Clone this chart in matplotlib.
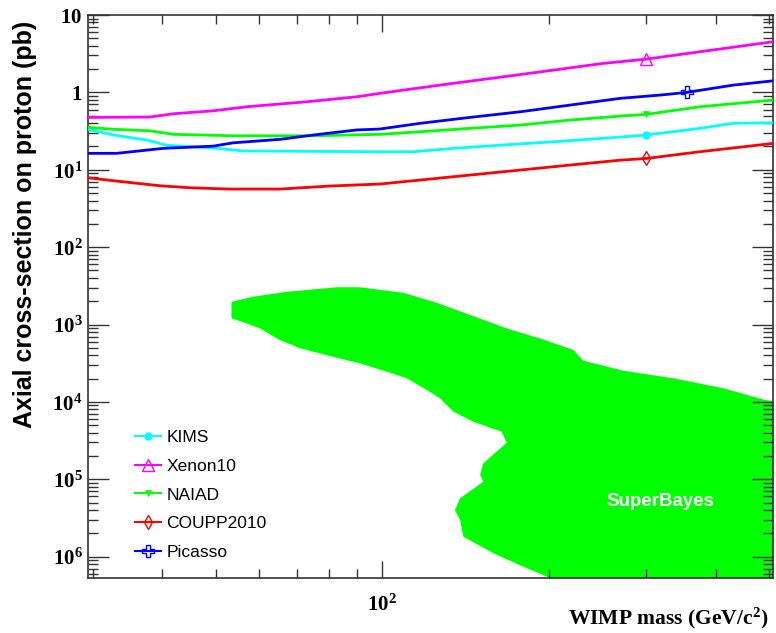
import matplotlib
matplotlib.use("Agg")
import matplotlib.pyplot as plt
from matplotlib.lines import Line2D
from matplotlib.ticker import FixedLocator, FixedFormatter, NullFormatter, LogLocator

plt.rcParams['mathtext.fontset'] = 'custom'
plt.rcParams['mathtext.rm'] = 'Liberation Serif:bold'
plt.rcParams['mathtext.it'] = 'Liberation Serif:bold'
plt.rcParams['mathtext.bf'] = 'Liberation Serif:bold'
plt.rcParams['mathtext.default'] = 'rm'

# axis ranges (GeV, pb)
XMIN, XMAX = 29.4, 508.0
YMIN, YMAX = 5.3e-7, 10.0

# exclusion limits: WIMP mass (GeV/c^2) -> axial cross-section (pb)
kims_mass = [29.4, 32.7, 37.5, 40.8, 50.0, 56.0, 99.0, 113.7, 134.4, 165.4, 203.7, 250.7, 300.0, 374.8, 430.0, 508.0]
kims_sigma = [0.333, 0.281, 0.242, 0.207, 0.19, 0.175, 0.171, 0.171, 0.189, 0.209, 0.23, 0.255, 0.281, 0.343, 0.398, 0.405]

xenon_mass = [29.4, 38.0, 42.0, 49.5, 56.9, 73.0, 89.9, 99.0, 109.1, 134.4, 165.4, 203.7, 250.7, 300.0, 374.8, 508.0]
xenon_sigma = [0.475, 0.48, 0.53, 0.578, 0.652, 0.756, 0.877, 0.971, 1.07, 1.31, 1.59, 1.94, 2.37, 2.69, 3.35, 4.51]

naiad_mass = [29.4, 32.7, 38.0, 41.9, 53.8, 75.0, 99.0, 117.0, 144.0, 177.4, 218.3, 268.9, 300.0, 374.8, 508.0]
naiad_sigma = [0.353, 0.333, 0.319, 0.287, 0.275, 0.275, 0.287, 0.31, 0.343, 0.378, 0.439, 0.494, 0.52, 0.652, 0.795]

coupp_mass = [29.4, 32.7, 39.7, 45.0, 53.1, 65.3, 80.4, 99.0, 117.0, 144.0, 177.4, 218.3, 268.9, 300.0, 374.8, 508.0]
coupp_sigma = [0.0788, 0.0721, 0.0621, 0.0585, 0.0563, 0.0563, 0.0616, 0.0654, 0.0736, 0.0854, 0.0991, 0.115, 0.133, 0.14, 0.171, 0.219]

picasso_mass = [29.4, 33.1, 40.2, 49.5, 53.8, 65.3, 75.0, 89.9, 99.0, 117.0, 144.0, 177.4, 218.3, 268.9, 317.6, 355.0, 430.0, 508.0]
picasso_sigma = [0.163, 0.163, 0.189, 0.202, 0.223, 0.247, 0.281, 0.327, 0.336, 0.398, 0.475, 0.561, 0.685, 0.837, 0.923, 1.0, 1.24, 1.41]

# one marker per curve
marker_mass = [300.0, 300.0, 300.0, 300.0, 355.0]
marker_sigma = [0.281, 2.69, 0.52, 0.14, 1.0]

names = ["KIMS", "Xenon10", "NAIAD", "COUPP2010", "Picasso"]
colors = ["#00ffff", "#ff00ff", "#00ff00", "#ff0000", "#0000ff"]

# SuperBayes favoured region boundary
sb_upper_mass = [53.4, 58.5, 67.2, 82.7, 91.1, 109.1, 125.4, 144.0, 167.8, 192.7, 221.4, 230.7, 272.5, 335.6, 413.2, 491.4, 508.0]
sb_upper_sigma = [1.97e-3, 2.29e-3, 2.65e-3, 3.03e-3, 3.03e-3, 2.57e-3, 1.91e-3, 1.33e-3, 8.9e-4, 6.6e-4, 4.69e-4, 3.41e-4, 2.53e-4, 2.02e-4, 1.5e-4, 1.06e-4, 1.03e-4]
sb_lower_mass = [53.4, 55.7, 60.1, 64.9, 71.0, 80.4, 91.1, 101.8, 110.7, 120.3, 127.2, 134.4, 146.0, 164.3, 167.8, 152.2, 150.2, 152.2, 138.2, 135.3, 138.2, 140.1, 158.7, 179.8, 200.9]
sb_lower_sigma = [1.20e-3, 1.09e-3, 8.93e-4, 6.44e-4, 4.93e-4, 3.92e-4, 3.15e-4, 2.46e-4, 2.02e-4, 1.43e-4, 1.11e-4, 7.47e-5, 5.55e-5, 4.12e-5, 2.97e-5, 1.61e-5, 1.14e-5, 9.3e-6, 5.68e-6, 4.0e-6, 2.98e-6, 1.81e-6, 1.11e-6, 7.43e-7, 5.3e-7]

xtick_major = [100]
xtick_labels = ["$10^{2}$"]
xtick_minor = [30, 40, 50, 60, 70, 80, 90, 200, 300, 400, 500]
ytick_major = [10, 1, 1e-1, 1e-2, 1e-3, 1e-4, 1e-5, 1e-6]
ytick_labels = ["$10$", "$1$", "$10^{1}$", "$10^{2}$", "$10^{3}$", "$10^{4}$", "$10^{5}$", "$10^{6}$"]

fig = plt.figure(figsize=(7.76, 6.33), dpi=100)
ax = fig.add_axes([88 / 776, 1 - 578 / 633, 685 / 776, 563 / 633])

# green region
poly_x = sb_upper_mass + [XMAX, XMAX] + sb_lower_mass[::-1]
poly_y = sb_upper_sigma + [sb_upper_sigma[-1], YMIN] + sb_lower_sigma[::-1]
ax.fill(poly_x, poly_y, color="#00ff00", lw=0, zorder=1)
ax.text(317.6, 5.14e-6, "SuperBayes", color="white", fontsize=13.5, fontweight="bold",
        family="Liberation Sans", ha="center", va="center", zorder=3)

curves = [(kims_mass, kims_sigma), (xenon_mass, xenon_sigma), (naiad_mass, naiad_sigma),
          (coupp_mass, coupp_sigma), (picasso_mass, picasso_sigma)]
mstyles = [dict(marker="o", ms=6, mfc=colors[0], mew=0),
           dict(marker="^", ms=8, mfc="none", mew=1.0),
           dict(marker="v", ms=5, mfc=colors[2], mew=0.5),
           dict(marker="d", ms=7, mfc="none", mew=1.0),
           dict(marker="P", ms=8, mfc="none", mew=1.0)]

handles = []
for i, (m, s) in enumerate(curves):
    ax.plot(m, s, color=colors[i], lw=2, zorder=4)
    ax.plot([marker_mass[i]], [marker_sigma[i]], ls="none", mec=colors[i], zorder=5, **mstyles[i])
    handles.append(Line2D([], [], color=colors[i], lw=1.5, mec=colors[i], **mstyles[i]))

ax.set_xscale("log")
ax.set_yscale("log")
ax.set_xlim(XMIN, XMAX)
ax.set_ylim(YMIN, YMAX)

ax.xaxis.set_major_locator(FixedLocator(xtick_major))
ax.xaxis.set_major_formatter(FixedFormatter(xtick_labels))
ax.xaxis.set_minor_locator(FixedLocator(xtick_minor))
ax.xaxis.set_minor_formatter(NullFormatter())
ax.yaxis.set_major_locator(FixedLocator(ytick_major))
ax.yaxis.set_major_formatter(FixedFormatter(ytick_labels))
ax.yaxis.set_minor_locator(LogLocator(base=10, subs=range(2, 10), numticks=30))
ax.yaxis.set_minor_formatter(NullFormatter())

ax.tick_params(which="both", direction="in", top=True, right=True, color="#333333", width=1, labelsize=15)
ax.tick_params(axis="y", which="major", length=15, pad=4)
ax.tick_params(axis="y", which="minor", length=7)
ax.tick_params(axis="x", which="major", length=12, pad=11)
ax.tick_params(axis="x", which="minor", length=6.5)
for sp in ax.spines.values():
    sp.set_linewidth(1.2)
    sp.set_color("#333333")

leg = ax.legend(handles, names, loc="upper left", bbox_to_anchor=(135 / 776, 1 - 430 / 633),
                bbox_transform=fig.transFigure, frameon=False, borderpad=0, borderaxespad=0,
                handlelength=1.5, handletextpad=0.3, labelspacing=0.78, numpoints=1,
                prop={"family": "Liberation Sans", "size": 12.5})

fig.text(25 / 776, 1 - 224 / 633, "Axial cross-section on proton (pb)", rotation=90,
         ha="center", va="center", fontsize=18, fontweight="bold", family="Liberation Sans")
fig.text(768 / 776, 1 - 618 / 633, "WIMP mass (GeV/c$^{2}$)", ha="right", va="center",
         fontsize=15.5, fontweight="bold", family="Liberation Serif")

fig.savefig("out.png", dpi=100)
